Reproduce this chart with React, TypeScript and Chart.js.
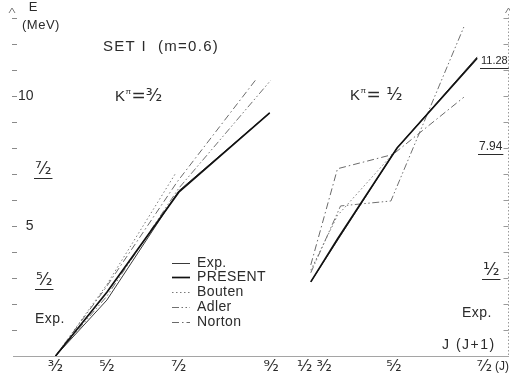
import React, { useEffect, useRef } from "react";
import { Chart, registerables } from "chart.js";

Chart.register(...registerables);

// ---------- data ----------
// x unit: J(J+1) of the K=3/2 band (left panel); the K=1/2 band sits further right on the same axis
const xTickJ = ["3/2", "5/2", "7/2", "9/2", "1/2", "3/2", "5/2", "7/2"];
const xTickPos = [3.75, 8.75, 15.75, 24.75, 28.0, 29.9, 36.7, 45.5];
const yTickValues = [0, 1, 2, 3, 4, 5, 6, 7, 8, 9, 10, 11, 12, 13];
const yLabelledTicks = [5, 10];

// K^pi = 3/2 band (left panel)
const k32ExpX = [3.75, 8.75, 15.75, 24.6];
const k32ExpE = [0, 2.15, 6.35, 9.35];
const k32PresentX = [3.75, 8.75, 15.75, 24.6];
const k32PresentE = [0, 2.45, 6.3, 9.35];
const k32BoutenX = [3.75, 8.75, 15.4];
const k32BoutenE = [0, 2.75, 7.0];
const k32AdlerX = [3.75, 8.75, 15.75, 24.7];
const k32AdlerE = [0, 2.3, 6.45, 10.6];
const k32NortonX = [3.75, 8.6, 15.6, 23.3];
const k32NortonE = [0, 2.6, 6.7, 10.65];

// K^pi = 1/2 band (right panel)
const k12ExpX = [28.6, 37.0, 44.8];
const k12ExpE = [2.85, 8.0, 11.5];
const k12PresentX = [28.6, 31.2, 37.0, 44.8];
const k12PresentE = [2.85, 4.5, 8.0, 11.45];
const k12BoutenX = [28.6, 31.2, 37.0];
const k12BoutenE = [3.3, 5.4, 7.95];
const k12AdlerX = [28.6, 31.5, 36.4, 43.5];
const k12AdlerE = [3.2, 5.77, 5.96, 12.65];
const k12NortonX = [28.6, 31.2, 36.6, 43.5];
const k12NortonE = [3.5, 7.2, 7.75, 9.95];

const legendOrder = ["Exp.", "PRESENT", "Bouten", "Adler", "Norton"];

// ---------- helpers ----------
const SUP: Record<string, string> = { "1": "¹", "3": "³", "5": "⁵", "7": "⁷", "9": "⁹" };
const SUB: Record<string, string> = { "2": "₂" };
const frac = (s: string) => {
  const [a, b] = s.split("/");
  return a.split("").map((c) => SUP[c] || c).join("") + "⁄" + b.split("").map((c) => SUB[c] || c).join("");
};

const FONT = '"Liberation Sans", "DejaVu Sans", Arial, sans-serif';
const FRAC_FONT = '"DejaVu Sans", "Liberation Sans", sans-serif';
const INK = "#2b2b2b";

const styles: Record<string, any> = {
  "Exp.": { borderColor: "#3a3a3a", borderWidth: 1, borderDash: [] },
  PRESENT: { borderColor: "#111111", borderWidth: 1.7, borderDash: [] },
  Bouten: { borderColor: "#7a7a7a", borderWidth: 1, borderDash: [1.5, 2.5] },
  Adler: { borderColor: "#707070", borderWidth: 1, borderDash: [7, 2.5, 1.5, 2.5, 1.5, 2.5] },
  Norton: { borderColor: "#6a6a6a", borderWidth: 1, borderDash: [7, 3, 1.5, 3] },
};

const mk = (label: string, xs: number[], ys: number[]) => ({
  label,
  data: xs.map((x, i) => ({ x, y: ys[i] })),
  ...styles[label],
  pointRadius: 0,
  fill: false,
  tension: 0,
  showLine: true,
});

const datasets = [
  mk("PRESENT", k32PresentX, k32PresentE),
  mk("PRESENT", k12PresentX, k12PresentE),
  mk("Exp.", k32ExpX, k32ExpE),
  mk("Exp.", k12ExpX, k12ExpE),
  mk("Bouten", k32BoutenX, k32BoutenE),
  mk("Bouten", k12BoutenX, k12BoutenE),
  mk("Adler", k32AdlerX, k32AdlerE),
  mk("Adler", k12AdlerX, k12AdlerE),
  mk("Norton", k32NortonX, k32NortonE),
  mk("Norton", k12NortonX, k12NortonE),
];

// ---------- decorations plugin ----------
const decorations = {
  id: "decorations",
  afterDatasetsDraw(chart: any) {
    const { ctx, chartArea, scales } = chart;
    const yS = scales.y;
    ctx.save();

    // left axis inward tick marks
    ctx.strokeStyle = "#8a8a8a";
    ctx.lineWidth = 1;
    ctx.setLineDash([]);
    yTickValues.forEach((v) => {
      if (v === 0) return;
      const py = Math.round(yS.getPixelForValue(v)) + 0.5;
      ctx.beginPath();
      ctx.moveTo(chartArea.left - 1, py);
      ctx.lineTo(chartArea.left + 4, py);
      ctx.stroke();
    });

    // right axis: dotted line with inward ticks
    const rx = chartArea.right + 0.5;
    ctx.strokeStyle = "#9a9a9a";
    ctx.setLineDash([1.5, 2]);
    ctx.beginPath();
    ctx.moveTo(rx, chartArea.top);
    ctx.lineTo(rx, chartArea.bottom);
    ctx.stroke();
    ctx.setLineDash([]);
    yTickValues.forEach((v) => {
      if (v === 0) return;
      const py = Math.round(yS.getPixelForValue(v)) + 0.5;
      ctx.beginPath();
      ctx.moveTo(rx - 5, py);
      ctx.lineTo(rx, py);
      ctx.stroke();
    });

    // arrow heads at the top of both vertical axes
    ctx.strokeStyle = "#7a7a7a";
    [chartArea.left - 1, rx].forEach((ax) => {
      ctx.beginPath();
      ctx.moveTo(ax - 3, chartArea.top - 1);
      ctx.lineTo(ax, chartArea.top - 6);
      ctx.lineTo(ax + 3, chartArea.top - 1);
      ctx.stroke();
    });

    // texts
    ctx.fillStyle = INK;
    ctx.textBaseline = "middle";
    const txt = (
      t: string,
      x: number,
      y: number,
      size: number,
      align: CanvasTextAlign = "left",
      family: string = FONT,
      spacing = 0
    ) => {
      ctx.font = `${size}px ${family}`;
      (ctx as any).letterSpacing = `${spacing}px`;
      ctx.textAlign = align;
      ctx.fillText(t, x, y);
      const w = ctx.measureText(t).width;
      (ctx as any).letterSpacing = "0px";
      return w;
    };
    const under = (t: string, x: number, y: number, size: number, family: string = FONT, off = 8.5) => {
      const w = txt(t, x, y, size, "left", family);
      ctx.strokeStyle = INK;
      ctx.lineWidth = 1;
      ctx.beginPath();
      ctx.moveTo(x - 1, y + off);
      ctx.lineTo(x + w + 1, y + off);
      ctx.stroke();
    };

    txt("E", 33, 7, 13, "center");
    txt("(MeV)", 22, 25, 13, "left", FONT, 0.5);
    txt("SET I  (m=0.6)", 103, 47, 15, "left", FONT, 1.3);

    // K^pi labels
    const kpi = (x: number, y: number, rest: string) => {
      const wK = txt("K", x, y, 15);
      const wP = txt("π", x + wK + 0.5, y - 5, 8);
      txt(rest, x + wK + wP + 1, y, 17, "left", FRAC_FONT);
    };
    kpi(115, 97, "=" + frac("3/2"));
    kpi(350, 96, "= " + frac("1/2"));

    // experimental level labels
    under(frac("7/2"), 35, 170, 17, FRAC_FONT, 8.5);
    under(frac("5/2"), 36, 281, 17, FRAC_FONT, 8.5);
    txt("Exp.", 35, 319, 14, "left", FONT, 0.5);
    under("11.28", 481, 61, 11, FONT, 7.5);
    under("7.94", 479, 147, 12, FONT, 7.5);
    under(frac("1/2"), 483, 271, 17, FRAC_FONT, 8.5);
    txt("Exp.", 462, 313, 14, "left", FONT, 0.5);
    txt("J (J+1)", 442, 345, 14, "left", FONT, 1.5);
    txt("(J)", 509, 367, 12, "right");

    // legend
    const lx0 = 172, lx1 = 190, tx = 197;
    const rows = [263, 277, 292, 307, 322];
    legendOrder.forEach((label, i) => {
      const ds = chart.data.datasets.find((d: any) => d.label === label);
      const y = rows[i] + 0.5;
      ctx.strokeStyle = ds.borderColor;
      ctx.lineWidth = ds.borderWidth;
      ctx.setLineDash(ds.borderDash || []);
      ctx.beginPath();
      ctx.moveTo(lx0, y);
      ctx.lineTo(lx1, y);
      ctx.stroke();
      ctx.setLineDash([]);
      ctx.fillStyle = INK;
      txt(label, tx, rows[i], 14, "left", FONT, 0.4);
    });

    ctx.restore();
  },
};

const App = () => {
  const ref = useRef<HTMLCanvasElement>(null);
  useEffect(() => {
    const chart = new Chart(ref.current as HTMLCanvasElement, {
      type: "line",
      data: { datasets: datasets as any },
      options: {
        animation: false,
        responsive: true,
        maintainAspectRatio: false,
        layout: { padding: { top: 14, right: 2, left: 0, bottom: 0 } },
        plugins: { legend: { display: false }, tooltip: { enabled: false } },
        scales: {
          x: {
            type: "linear",
            min: -0.39,
            max: 47.8,
            afterBuildTicks: (s: any) => {
              s.ticks = xTickPos.map((v) => ({ value: v }));
            },
            afterFit: (s: any) => {
              s.height = 22;
            },
            grid: { display: true, drawOnChartArea: false, drawTicks: false },
            border: { display: true, color: "#a5a5a5", width: 1, dash: [10, 4] },
            ticks: {
              autoSkip: false,
              maxRotation: 0,
              padding: 1,
              color: INK,
              font: { family: FRAC_FONT, size: 16 },
              callback: (_v: any, i: number) => frac(xTickJ[i]),
            },
          },
          y: {
            type: "linear",
            min: 0,
            max: 13.15,
            afterBuildTicks: (s: any) => {
              s.ticks = yTickValues.map((v) => ({ value: v }));
            },
            afterFit: (s: any) => {
              s.width = 13;
            },
            grid: { display: true, drawOnChartArea: false, drawTicks: false },
            border: { display: false },
            ticks: {
              mirror: true,
              crossAlign: "far",
              padding: 5,
              color: INK,
              font: { family: FONT, size: 14 },
              callback: (v: any) => (yLabelledTicks.includes(v) ? String(v) : ""),
            },
          },
        },
      } as any,
      plugins: [decorations],
    });
    return () => chart.destroy();
  }, []);
  return (
    <div style={{ position: "fixed", left: 0, top: 0, width: 510, height: 378, background: "#fff" }}>
      <canvas ref={ref} />
    </div>
  );
};

export default App;
